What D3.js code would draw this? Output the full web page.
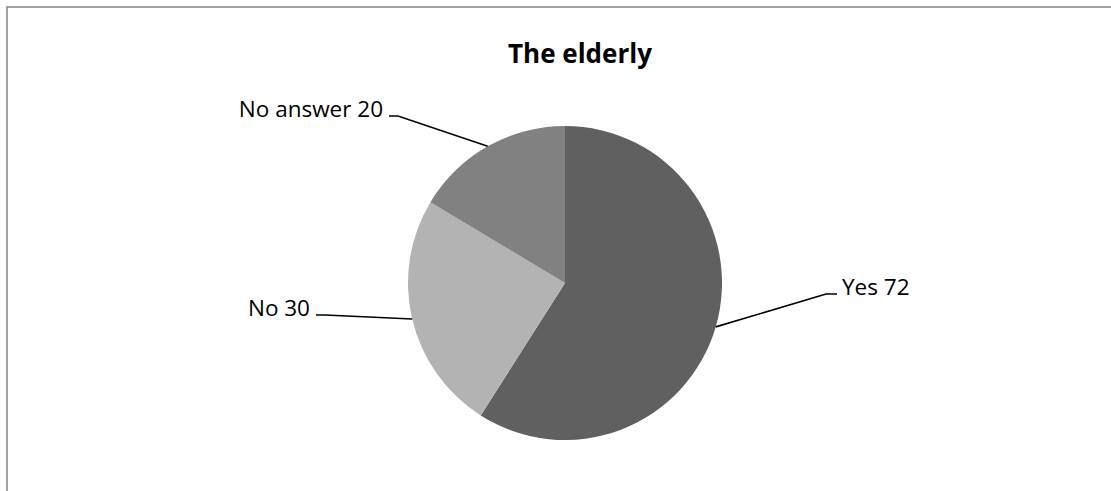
<!DOCTYPE html>
<html>
<head>
<meta charset="utf-8">
<script src="https://cdn.jsdelivr.net/npm/d3@7"></script>
<style>
  html, body { margin: 0; padding: 0; background: #fff; }
  svg { display: block; }
</style>
</head>
<body>
<svg id="chart" width="1111" height="491"></svg>
<script>
// ---- data ----
const categories = ["Yes", "No", "No answer"];
const values = [72, 30, 20];
const sliceColors = ["#606060", "#b3b3b3", "#818181"];
const chartTitle = "The elderly";

// ---- layout (label elbow points relative to pie centre) ----
const labelElbows = [[261, 11], [-240, 32], [-167, -167]];

const W = 1111, H = 491;
const cx = 565, cy = 283, R = 157;
const font = "'Open Sans', 'Noto Sans', sans-serif";

const svg = d3.select("#chart");

// chart area border (only top/left visible in frame)
svg.append("rect")
  .attr("x", 7).attr("y", 7)
  .attr("width", W + 20).attr("height", H + 20)
  .attr("fill", "#fff")
  .attr("stroke", "#8a8a8a")
  .attr("stroke-width", 1.6);

svg.append("text")
  .attr("x", 580).attr("y", 63)
  .attr("text-anchor", "middle")
  .attr("font-family", font)
  .attr("font-weight", "bold")
  .attr("font-size", 26)
  .attr("fill", "#000")
  .text(chartTitle);

const data = categories.map((c, i) => ({ cat: c, value: values[i], color: sliceColors[i], elbow: labelElbows[i] }));

const pie = d3.pie().value(d => d.value).sort(null);
const arc = d3.arc().innerRadius(0).outerRadius(R);
const arcs = pie(data);

const g = svg.append("g").attr("transform", `translate(${cx},${cy})`);

g.selectAll("path.slice")
  .data(arcs)
  .join("path")
  .attr("class", "slice")
  .attr("d", arc)
  .attr("fill", d => d.data.color);

// leader lines and labels
arcs.forEach(a => {
  const mid = (a.startAngle + a.endAngle) / 2;
  const px = Math.sin(mid) * R, py = -Math.cos(mid) * R;
  const [ex, ey] = a.data.elbow;
  const right = ex > 0;
  const hx = ex + (right ? 11 : -9);
  g.append("polyline")
    .attr("points", `${px},${py} ${ex},${ey} ${hx},${ey}`)
    .attr("fill", "none")
    .attr("stroke", "#000")
    .attr("stroke-width", 1.6);
  g.append("text")
    .attr("x", hx + (right ? 5 : -6))
    .attr("y", ey + 1)
    .attr("text-anchor", right ? "start" : "end")
    .attr("font-family", font)
    .attr("font-size", 22.5)
    .attr("fill", "#000")
    .text(`${a.data.cat} ${a.data.value}`);
});
</script>
</body>
</html>
